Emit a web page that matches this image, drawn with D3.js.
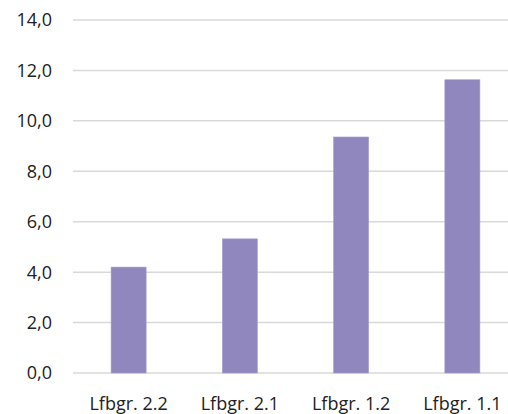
<!DOCTYPE html>
<html>
<head>
<meta charset="utf-8">
<script src="https://cdn.jsdelivr.net/npm/d3@7"></script>
<style>
  html, body { margin: 0; padding: 0; background: #fff; }
  svg { display: block; overflow: hidden; }
  text { font-family: "Open Sans", Lato, sans-serif; fill: #222; }
</style>
</head>
<body>
<div id="chart"></div>
<script>
const categories = ["Lfbgr. 2.2", "Lfbgr. 2.1", "Lfbgr. 1.2", "Lfbgr. 1.1"];
const values = [4.2, 5.32, 9.36, 11.63];
const yTicks = [0, 2, 4, 6, 8, 10, 12, 14];

function PlotBarChart(parent_element) {
  const width = 508, height = 414;
  const left = 73, plotRight = 518, top = 20, bottom = 373;

  const svg = d3.select(`#${parent_element}`)
    .append("svg")
    .attr("width", width)
    .attr("height", height);

  const x = d3.scaleBand()
    .domain(categories)
    .range([left, plotRight])
    .paddingInner(0.685)
    .paddingOuter(0.3425);

  const y = d3.scaleLinear()
    .domain([0, 14])
    .range([bottom, top]);

  // gridlines
  svg.append("g")
    .selectAll("line")
    .data(yTicks)
    .join("line")
    .attr("x1", left)
    .attr("x2", width)
    .attr("y1", d => y(d))
    .attr("y2", d => y(d))
    .attr("stroke", "#d9d9d9")
    .attr("stroke-width", 1.5);

  // y labels
  svg.append("g")
    .selectAll("text")
    .data(yTicks)
    .join("text")
    .attr("x", 52)
    .attr("y", d => y(d))
    .attr("dy", "0.36em")
    .attr("text-anchor", "end")
    .attr("font-size", 18)
    .text(d => d3.format(".1f")(d).replace(".", ","));

  // bars
  svg.append("g")
    .selectAll("rect")
    .data(values)
    .join("rect")
    .attr("x", (d, i) => x(categories[i]))
    .attr("width", x.bandwidth())
    .attr("y", d => y(d))
    .attr("height", d => y(0) - y(d))
    .attr("fill", "#9087be")
    .attr("stroke", "#a59ed0")
    .attr("stroke-width", 0.6);

  // x labels
  svg.append("g")
    .selectAll("text")
    .data(categories)
    .join("text")
    .attr("x", d => x(d) + x.bandwidth() / 2)
    .attr("y", 410)
    .attr("text-anchor", "middle")
    .attr("font-size", 18)
    .text(d => d);
}

document.addEventListener('DOMContentLoaded', () => {
  PlotBarChart("chart");
});
</script>
</body>
</html>
